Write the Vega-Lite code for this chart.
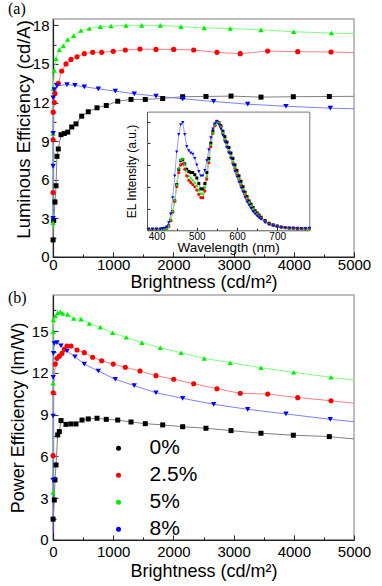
{
  "$schema": "https://vega.github.io/schema/vega-lite/v6.json",
  "background": "white",
  "padding": {"left": 7, "top": -0.1, "right": 0, "bottom": 0},
  "bounds": "flush",
  "spacing": 38,
  "resolve": {"scale": {"stroke": "independent", "fill": "independent", "shape": "independent", "size": "independent"}, "legend": {"stroke": "independent", "fill": "independent", "shape": "independent", "size": "independent"}},
  "config": {
    "font": "Liberation Sans",
    "view": {"stroke": "#a8a8a8", "strokeWidth": 1.5},
    "axis": {"grid": false, "domainColor": "#222222", "domainWidth": 1.2, "tickColor": "#222222", "tickWidth": 1, "labelColor": "#000000", "titleColor": "#000000", "titleFontWeight": "normal", "labelFont": "Liberation Sans", "titleFont": "Liberation Sans", "labelFlush": false, "labelOverlap": false, "labelBound": false},
    "title": {"font": "Liberation Serif", "fontSize": 16, "fontWeight": "normal", "color": "#000000", "anchor": "start", "frame": "group", "baseline": "alphabetic", "offset": 7}
  },
  "datasets": {
    "a": [
      {"b":1,"v":1.32,"s":"0%"},{"b":12,"v":2.83,"s":"0%"},{"b":33,"v":4.26,"s":"0%"},{"b":50,"v":5.53,"s":"0%"},{"b":66,"v":7.82,"s":"0%"},{"b":88,"v":8.39,"s":"0%"},{"b":133,"v":9.5,"s":"0%"},{"b":188,"v":9.6,"s":"0%"},{"b":244,"v":9.7,"s":"0%"},{"b":311,"v":10.1,"s":"0%"},{"b":382,"v":10.34,"s":"0%"},{"b":477,"v":10.94,"s":"0%"},{"b":586,"v":11.28,"s":"0%"},{"b":731,"v":11.59,"s":"0%"},{"b":885,"v":11.77,"s":"0%"},{"b":1075,"v":12.1,"s":"0%"},{"b":1296,"v":12.24,"s":"0%"},{"b":1533,"v":12.24,"s":"0%"},{"b":1822,"v":12.31,"s":"0%"},{"b":2154,"v":12.45,"s":"0%"},{"b":2541,"v":12.47,"s":"0%"},{"b":2957,"v":12.5,"s":"0%"},{"b":3455,"v":12.42,"s":"0%"},{"b":3992,"v":12.45,"s":"0%"},{"b":4590,"v":12.47,"s":"0%"},{"b":5000,"v":12.48,"s":"0%","mk":0},
      {"b":1,"v":5.0,"s":"2.5%"},{"b":2,"v":9.1,"s":"2.5%"},{"b":4,"v":11.25,"s":"2.5%"},{"b":22,"v":12.0,"s":"2.5%"},{"b":33,"v":12.7,"s":"2.5%"},{"b":88,"v":13.5,"s":"2.5%"},{"b":144,"v":14.45,"s":"2.5%"},{"b":216,"v":15.0,"s":"2.5%"},{"b":299,"v":15.35,"s":"2.5%"},{"b":399,"v":15.55,"s":"2.5%"},{"b":520,"v":15.8,"s":"2.5%"},{"b":659,"v":15.9,"s":"2.5%"},{"b":809,"v":15.9,"s":"2.5%"},{"b":1001,"v":15.98,"s":"2.5%"},{"b":1201,"v":16.08,"s":"2.5%"},{"b":1445,"v":16.16,"s":"2.5%"},{"b":1711,"v":16.13,"s":"2.5%"},{"b":2005,"v":16.13,"s":"2.5%"},{"b":2337,"v":16.08,"s":"2.5%"},{"b":2724,"v":15.9,"s":"2.5%"},{"b":3111,"v":15.8,"s":"2.5%"},{"b":3566,"v":16.0,"s":"2.5%"},{"b":4065,"v":15.95,"s":"2.5%"},{"b":4618,"v":15.93,"s":"2.5%"},{"b":5000,"v":15.88,"s":"2.5%","mk":0},
      {"b":1,"v":2.65,"s":"5%"},{"b":2,"v":9.6,"s":"5%"},{"b":4,"v":13.1,"s":"5%"},{"b":22,"v":14.5,"s":"5%"},{"b":50,"v":15.4,"s":"5%"},{"b":105,"v":16.1,"s":"5%"},{"b":171,"v":16.4,"s":"5%"},{"b":244,"v":16.9,"s":"5%"},{"b":344,"v":17.2,"s":"5%"},{"b":465,"v":17.6,"s":"5%"},{"b":603,"v":17.75,"s":"5%"},{"b":786,"v":17.9,"s":"5%"},{"b":963,"v":17.95,"s":"5%"},{"b":1213,"v":18.0,"s":"5%"},{"b":1473,"v":18.0,"s":"5%"},{"b":1782,"v":18.0,"s":"5%"},{"b":2126,"v":17.9,"s":"5%"},{"b":2513,"v":17.8,"s":"5%"},{"b":2945,"v":17.75,"s":"5%"},{"b":3455,"v":17.65,"s":"5%"},{"b":3998,"v":17.5,"s":"5%"},{"b":4625,"v":17.4,"s":"5%"},{"b":5000,"v":17.35,"s":"5%","mk":0},
      {"b":1,"v":3.0,"s":"8%"},{"b":2,"v":7.05,"s":"8%"},{"b":3,"v":9.6,"s":"8%"},{"b":4,"v":12.37,"s":"8%"},{"b":22,"v":13.0,"s":"8%"},{"b":66,"v":13.3,"s":"8%"},{"b":233,"v":13.4,"s":"8%"},{"b":365,"v":13.33,"s":"8%"},{"b":520,"v":13.22,"s":"8%"},{"b":753,"v":13.07,"s":"8%"},{"b":1035,"v":12.88,"s":"8%"},{"b":1350,"v":12.68,"s":"8%"},{"b":1711,"v":12.5,"s":"8%"},{"b":2154,"v":12.29,"s":"8%"},{"b":2669,"v":12.08,"s":"8%"},{"b":3234,"v":11.87,"s":"8%"},{"b":3870,"v":11.71,"s":"8%"},{"b":4606,"v":11.56,"s":"8%"},{"b":5000,"v":11.51,"s":"8%","mk":0}
    ],
    "b": [
      {"b":1,"v":1.49,"s":"0%"},{"b":22,"v":2.87,"s":"0%"},{"b":33,"v":4.31,"s":"0%"},{"b":50,"v":5.38,"s":"0%"},{"b":78,"v":7.54,"s":"0%"},{"b":105,"v":7.78,"s":"0%"},{"b":133,"v":8.57,"s":"0%"},{"b":216,"v":8.3,"s":"0%"},{"b":299,"v":8.33,"s":"0%"},{"b":382,"v":8.33,"s":"0%"},{"b":482,"v":8.61,"s":"0%"},{"b":586,"v":8.69,"s":"0%"},{"b":731,"v":8.74,"s":"0%"},{"b":885,"v":8.66,"s":"0%"},{"b":1075,"v":8.61,"s":"0%"},{"b":1296,"v":8.47,"s":"0%"},{"b":1533,"v":8.35,"s":"0%"},{"b":1822,"v":8.26,"s":"0%"},{"b":2154,"v":8.13,"s":"0%"},{"b":2541,"v":8.02,"s":"0%"},{"b":2957,"v":7.85,"s":"0%"},{"b":3455,"v":7.66,"s":"0%"},{"b":3992,"v":7.52,"s":"0%"},{"b":4590,"v":7.42,"s":"0%"},{"b":5000,"v":7.25,"s":"0%","mk":0},
      {"b":1,"v":6.05,"s":"2.5%"},{"b":5,"v":10.57,"s":"2.5%"},{"b":38,"v":12.63,"s":"2.5%"},{"b":66,"v":13.04,"s":"2.5%"},{"b":105,"v":13.2,"s":"2.5%"},{"b":150,"v":13.4,"s":"2.5%"},{"b":188,"v":13.69,"s":"2.5%"},{"b":233,"v":13.93,"s":"2.5%"},{"b":299,"v":13.93,"s":"2.5%"},{"b":399,"v":13.64,"s":"2.5%"},{"b":520,"v":13.45,"s":"2.5%"},{"b":659,"v":13.12,"s":"2.5%"},{"b":809,"v":12.87,"s":"2.5%"},{"b":1001,"v":12.63,"s":"2.5%"},{"b":1201,"v":12.4,"s":"2.5%"},{"b":1445,"v":12.13,"s":"2.5%"},{"b":1711,"v":11.8,"s":"2.5%"},{"b":2005,"v":11.54,"s":"2.5%"},{"b":2337,"v":11.22,"s":"2.5%"},{"b":2724,"v":10.86,"s":"2.5%"},{"b":3111,"v":10.53,"s":"2.5%"},{"b":3566,"v":10.48,"s":"2.5%"},{"b":4065,"v":10.22,"s":"2.5%"},{"b":4618,"v":10.0,"s":"2.5%"},{"b":5000,"v":9.81,"s":"2.5%","mk":0},
      {"b":1,"v":3.4,"s":"5%"},{"b":2,"v":11.25,"s":"5%"},{"b":3,"v":14.95,"s":"5%"},{"b":8,"v":15.8,"s":"5%"},{"b":38,"v":16.08,"s":"5%"},{"b":78,"v":16.32,"s":"5%"},{"b":121,"v":16.39,"s":"5%"},{"b":161,"v":16.27,"s":"5%"},{"b":244,"v":16.2,"s":"5%"},{"b":344,"v":15.91,"s":"5%"},{"b":465,"v":15.86,"s":"5%"},{"b":603,"v":15.55,"s":"5%"},{"b":786,"v":15.27,"s":"5%"},{"b":991,"v":14.88,"s":"5%"},{"b":1217,"v":14.55,"s":"5%"},{"b":1478,"v":14.17,"s":"5%"},{"b":1782,"v":13.8,"s":"5%"},{"b":2126,"v":13.45,"s":"5%"},{"b":2513,"v":13.04,"s":"5%"},{"b":2945,"v":12.73,"s":"5%"},{"b":3455,"v":12.37,"s":"5%"},{"b":3998,"v":12.04,"s":"5%"},{"b":4618,"v":11.68,"s":"5%"},{"b":5000,"v":11.49,"s":"5%","mk":0},
      {"b":0.3,"v":0.5,"s":"8%","mk":0},{"b":1,"v":4.3,"s":"8%"},{"b":2,"v":8.9,"s":"8%"},{"b":4,"v":11.68,"s":"8%"},{"b":8,"v":13.4,"s":"8%"},{"b":22,"v":14.12,"s":"8%"},{"b":66,"v":14.17,"s":"8%"},{"b":133,"v":13.95,"s":"8%"},{"b":233,"v":13.57,"s":"8%"},{"b":365,"v":13.16,"s":"8%"},{"b":520,"v":12.63,"s":"8%"},{"b":753,"v":12.13,"s":"8%"},{"b":1035,"v":11.54,"s":"8%"},{"b":1350,"v":11.08,"s":"8%"},{"b":1711,"v":10.57,"s":"8%"},{"b":2154,"v":10.17,"s":"8%"},{"b":2669,"v":9.74,"s":"8%"},{"b":3234,"v":9.38,"s":"8%"},{"b":3870,"v":9.05,"s":"8%"},{"b":4606,"v":8.66,"s":"8%"},{"b":5000,"v":8.49,"s":"8%","mk":0}
    ],
    "el": [
      {"w":380,"v":0.01,"s":"0%"},{"w":390,"v":0.01,"s":"0%"},{"w":400,"v":0.01,"s":"0%"},{"w":410,"v":0.01,"s":"0%"},{"w":415,"v":0.012,"s":"0%"},{"w":420,"v":0.015,"s":"0%"},{"w":425,"v":0.02,"s":"0%"},{"w":430,"v":0.04,"s":"0%"},{"w":435,"v":0.09,"s":"0%"},{"w":440,"v":0.17,"s":"0%"},{"w":445,"v":0.27,"s":"0%"},{"w":450,"v":0.42,"s":"0%"},{"w":455,"v":0.56,"s":"0%"},{"w":460,"v":0.64,"s":"0%"},{"w":465,"v":0.65,"s":"0%"},{"w":470,"v":0.61,"s":"0%"},{"w":475,"v":0.56,"s":"0%"},{"w":480,"v":0.54,"s":"0%"},{"w":485,"v":0.53,"s":"0%"},{"w":490,"v":0.53,"s":"0%"},{"w":495,"v":0.51,"s":"0%"},{"w":500,"v":0.48,"s":"0%"},{"w":505,"v":0.43,"s":"0%"},{"w":510,"v":0.38,"s":"0%"},{"w":515,"v":0.38,"s":"0%"},{"w":520,"v":0.43,"s":"0%"},{"w":525,"v":0.53,"s":"0%"},{"w":530,"v":0.66,"s":"0%"},{"w":535,"v":0.8,"s":"0%"},{"w":540,"v":0.91,"s":"0%"},{"w":545,"v":0.97,"s":"0%"},{"w":550,"v":1.0,"s":"0%"},{"w":555,"v":0.99,"s":"0%"},{"w":560,"v":0.96,"s":"0%"},{"w":565,"v":0.91,"s":"0%"},{"w":570,"v":0.86,"s":"0%"},{"w":575,"v":0.81,"s":"0%"},{"w":580,"v":0.76,"s":"0%"},{"w":585,"v":0.71,"s":"0%"},{"w":590,"v":0.66,"s":"0%"},{"w":595,"v":0.6,"s":"0%"},{"w":600,"v":0.55,"s":"0%"},{"w":605,"v":0.5,"s":"0%"},{"w":610,"v":0.45,"s":"0%"},{"w":615,"v":0.4,"s":"0%"},{"w":620,"v":0.35,"s":"0%"},{"w":625,"v":0.31,"s":"0%"},{"w":630,"v":0.27,"s":"0%"},{"w":635,"v":0.24,"s":"0%"},{"w":640,"v":0.21,"s":"0%"},{"w":645,"v":0.18,"s":"0%"},{"w":650,"v":0.16,"s":"0%"},{"w":655,"v":0.14,"s":"0%"},{"w":660,"v":0.12,"s":"0%"},{"w":670,"v":0.09,"s":"0%"},{"w":680,"v":0.065,"s":"0%"},{"w":690,"v":0.05,"s":"0%"},{"w":700,"v":0.04,"s":"0%"},{"w":710,"v":0.03,"s":"0%"},{"w":720,"v":0.025,"s":"0%"},{"w":730,"v":0.02,"s":"0%"},{"w":740,"v":0.02,"s":"0%"},{"w":750,"v":0.018,"s":"0%"},{"w":760,"v":0.016,"s":"0%"},{"w":770,"v":0.015,"s":"0%"},{"w":780,"v":0.015,"s":"0%"},
      {"w":380,"v":0.01,"s":"2.5%"},{"w":390,"v":0.01,"s":"2.5%"},{"w":400,"v":0.01,"s":"2.5%"},{"w":410,"v":0.01,"s":"2.5%"},{"w":415,"v":0.012,"s":"2.5%"},{"w":420,"v":0.015,"s":"2.5%"},{"w":425,"v":0.02,"s":"2.5%"},{"w":430,"v":0.04,"s":"2.5%"},{"w":435,"v":0.09,"s":"2.5%"},{"w":440,"v":0.17,"s":"2.5%"},{"w":445,"v":0.27,"s":"2.5%"},{"w":450,"v":0.4,"s":"2.5%"},{"w":455,"v":0.53,"s":"2.5%"},{"w":460,"v":0.6,"s":"2.5%"},{"w":465,"v":0.61,"s":"2.5%"},{"w":470,"v":0.56,"s":"2.5%"},{"w":475,"v":0.5,"s":"2.5%"},{"w":480,"v":0.46,"s":"2.5%"},{"w":485,"v":0.44,"s":"2.5%"},{"w":490,"v":0.42,"s":"2.5%"},{"w":495,"v":0.4,"s":"2.5%"},{"w":500,"v":0.37,"s":"2.5%"},{"w":505,"v":0.33,"s":"2.5%"},{"w":510,"v":0.3,"s":"2.5%"},{"w":515,"v":0.3,"s":"2.5%"},{"w":520,"v":0.36,"s":"2.5%"},{"w":525,"v":0.47,"s":"2.5%"},{"w":530,"v":0.62,"s":"2.5%"},{"w":535,"v":0.77,"s":"2.5%"},{"w":540,"v":0.89,"s":"2.5%"},{"w":545,"v":0.96,"s":"2.5%"},{"w":550,"v":1.0,"s":"2.5%"},{"w":555,"v":0.99,"s":"2.5%"},{"w":560,"v":0.95,"s":"2.5%"},{"w":565,"v":0.89,"s":"2.5%"},{"w":570,"v":0.83,"s":"2.5%"},{"w":575,"v":0.77,"s":"2.5%"},{"w":580,"v":0.72,"s":"2.5%"},{"w":585,"v":0.67,"s":"2.5%"},{"w":590,"v":0.62,"s":"2.5%"},{"w":595,"v":0.57,"s":"2.5%"},{"w":600,"v":0.52,"s":"2.5%"},{"w":605,"v":0.47,"s":"2.5%"},{"w":610,"v":0.42,"s":"2.5%"},{"w":615,"v":0.37,"s":"2.5%"},{"w":620,"v":0.33,"s":"2.5%"},{"w":625,"v":0.29,"s":"2.5%"},{"w":630,"v":0.25,"s":"2.5%"},{"w":635,"v":0.22,"s":"2.5%"},{"w":640,"v":0.19,"s":"2.5%"},{"w":645,"v":0.17,"s":"2.5%"},{"w":650,"v":0.15,"s":"2.5%"},{"w":655,"v":0.13,"s":"2.5%"},{"w":660,"v":0.11,"s":"2.5%"},{"w":670,"v":0.08,"s":"2.5%"},{"w":680,"v":0.06,"s":"2.5%"},{"w":690,"v":0.045,"s":"2.5%"},{"w":700,"v":0.035,"s":"2.5%"},{"w":710,"v":0.03,"s":"2.5%"},{"w":720,"v":0.025,"s":"2.5%"},{"w":730,"v":0.02,"s":"2.5%"},{"w":740,"v":0.02,"s":"2.5%"},{"w":750,"v":0.018,"s":"2.5%"},{"w":760,"v":0.016,"s":"2.5%"},{"w":770,"v":0.015,"s":"2.5%"},{"w":780,"v":0.015,"s":"2.5%"},
      {"w":380,"v":0.01,"s":"5%"},{"w":390,"v":0.01,"s":"5%"},{"w":400,"v":0.01,"s":"5%"},{"w":410,"v":0.01,"s":"5%"},{"w":415,"v":0.012,"s":"5%"},{"w":420,"v":0.015,"s":"5%"},{"w":425,"v":0.02,"s":"5%"},{"w":430,"v":0.04,"s":"5%"},{"w":435,"v":0.1,"s":"5%"},{"w":440,"v":0.18,"s":"5%"},{"w":445,"v":0.28,"s":"5%"},{"w":450,"v":0.42,"s":"5%"},{"w":455,"v":0.57,"s":"5%"},{"w":460,"v":0.65,"s":"5%"},{"w":465,"v":0.66,"s":"5%"},{"w":470,"v":0.61,"s":"5%"},{"w":475,"v":0.55,"s":"5%"},{"w":480,"v":0.5,"s":"5%"},{"w":485,"v":0.48,"s":"5%"},{"w":490,"v":0.46,"s":"5%"},{"w":495,"v":0.44,"s":"5%"},{"w":500,"v":0.41,"s":"5%"},{"w":505,"v":0.37,"s":"5%"},{"w":510,"v":0.34,"s":"5%"},{"w":515,"v":0.34,"s":"5%"},{"w":520,"v":0.4,"s":"5%"},{"w":525,"v":0.5,"s":"5%"},{"w":530,"v":0.64,"s":"5%"},{"w":535,"v":0.79,"s":"5%"},{"w":540,"v":0.9,"s":"5%"},{"w":545,"v":0.97,"s":"5%"},{"w":550,"v":1.0,"s":"5%"},{"w":555,"v":0.99,"s":"5%"},{"w":560,"v":0.95,"s":"5%"},{"w":565,"v":0.9,"s":"5%"},{"w":570,"v":0.84,"s":"5%"},{"w":575,"v":0.78,"s":"5%"},{"w":580,"v":0.73,"s":"5%"},{"w":585,"v":0.68,"s":"5%"},{"w":590,"v":0.63,"s":"5%"},{"w":595,"v":0.58,"s":"5%"},{"w":600,"v":0.53,"s":"5%"},{"w":605,"v":0.48,"s":"5%"},{"w":610,"v":0.43,"s":"5%"},{"w":615,"v":0.38,"s":"5%"},{"w":620,"v":0.34,"s":"5%"},{"w":625,"v":0.3,"s":"5%"},{"w":630,"v":0.26,"s":"5%"},{"w":635,"v":0.23,"s":"5%"},{"w":640,"v":0.2,"s":"5%"},{"w":645,"v":0.17,"s":"5%"},{"w":650,"v":0.15,"s":"5%"},{"w":655,"v":0.13,"s":"5%"},{"w":660,"v":0.11,"s":"5%"},{"w":670,"v":0.08,"s":"5%"},{"w":680,"v":0.06,"s":"5%"},{"w":690,"v":0.045,"s":"5%"},{"w":700,"v":0.035,"s":"5%"},{"w":710,"v":0.03,"s":"5%"},{"w":720,"v":0.025,"s":"5%"},{"w":730,"v":0.02,"s":"5%"},{"w":740,"v":0.02,"s":"5%"},{"w":750,"v":0.025,"s":"5%"},{"w":760,"v":0.02,"s":"5%"},{"w":770,"v":0.018,"s":"5%"},{"w":780,"v":0.015,"s":"5%"},
      {"w":380,"v":0.01,"s":"8%"},{"w":390,"v":0.01,"s":"8%"},{"w":400,"v":0.01,"s":"8%"},{"w":410,"v":0.012,"s":"8%"},{"w":415,"v":0.015,"s":"8%"},{"w":420,"v":0.02,"s":"8%"},{"w":425,"v":0.03,"s":"8%"},{"w":430,"v":0.07,"s":"8%"},{"w":435,"v":0.15,"s":"8%"},{"w":440,"v":0.3,"s":"8%"},{"w":445,"v":0.5,"s":"8%"},{"w":450,"v":0.72,"s":"8%"},{"w":455,"v":0.88,"s":"8%"},{"w":460,"v":0.97,"s":"8%"},{"w":465,"v":0.99,"s":"8%"},{"w":470,"v":0.88,"s":"8%"},{"w":475,"v":0.77,"s":"8%"},{"w":480,"v":0.73,"s":"8%"},{"w":485,"v":0.71,"s":"8%"},{"w":490,"v":0.7,"s":"8%"},{"w":495,"v":0.66,"s":"8%"},{"w":500,"v":0.6,"s":"8%"},{"w":505,"v":0.54,"s":"8%"},{"w":510,"v":0.5,"s":"8%"},{"w":515,"v":0.5,"s":"8%"},{"w":520,"v":0.55,"s":"8%"},{"w":525,"v":0.64,"s":"8%"},{"w":530,"v":0.74,"s":"8%"},{"w":535,"v":0.85,"s":"8%"},{"w":540,"v":0.93,"s":"8%"},{"w":545,"v":0.98,"s":"8%"},{"w":550,"v":1.0,"s":"8%"},{"w":555,"v":0.97,"s":"8%"},{"w":560,"v":0.93,"s":"8%"},{"w":565,"v":0.87,"s":"8%"},{"w":570,"v":0.81,"s":"8%"},{"w":575,"v":0.76,"s":"8%"},{"w":580,"v":0.71,"s":"8%"},{"w":585,"v":0.66,"s":"8%"},{"w":590,"v":0.6,"s":"8%"},{"w":595,"v":0.54,"s":"8%"},{"w":600,"v":0.49,"s":"8%"},{"w":605,"v":0.44,"s":"8%"},{"w":610,"v":0.39,"s":"8%"},{"w":615,"v":0.35,"s":"8%"},{"w":620,"v":0.3,"s":"8%"},{"w":625,"v":0.26,"s":"8%"},{"w":630,"v":0.23,"s":"8%"},{"w":635,"v":0.2,"s":"8%"},{"w":640,"v":0.17,"s":"8%"},{"w":645,"v":0.15,"s":"8%"},{"w":650,"v":0.13,"s":"8%"},{"w":655,"v":0.115,"s":"8%"},{"w":660,"v":0.1,"s":"8%"},{"w":670,"v":0.07,"s":"8%"},{"w":680,"v":0.05,"s":"8%"},{"w":690,"v":0.04,"s":"8%"},{"w":700,"v":0.03,"s":"8%"},{"w":710,"v":0.025,"s":"8%"},{"w":720,"v":0.02,"s":"8%"},{"w":730,"v":0.02,"s":"8%"},{"w":740,"v":0.018,"s":"8%"},{"w":750,"v":0.016,"s":"8%"},{"w":760,"v":0.015,"s":"8%"},{"w":770,"v":0.015,"s":"8%"},{"w":780,"v":0.02,"s":"8%"}
    ]
  },
  "vconcat": [
    {
      "width": 301,
      "height": 238,
      "title": {"text": "(a)", "dx": -45, "offset": 1.2},
      "resolve": {"scale": {"x": "independent", "y": "independent", "size": "independent"}},
      "layer": [
        {
          "data": {"name": "a"},
          "encoding": {
            "x": {"field": "b", "type": "quantitative", "scale": {"domain": [0, 5000], "nice": false},
              "axis": {"orient": "bottom", "values": [0,500,1000,1500,2000,2500,3000,3500,4000,4500,5000], "format": "d", "labelExpr": "datum.value % 1000 === 0 ? datum.label : ''", "tickSize": {"condition": {"test": "datum.value % 1000 === 0", "value": -5}, "value": -3}, "labelPadding": 5.5, "labelFontSize": 15, "title": "Brightness (cd/m²)", "titleFontSize": 18, "titleBaseline": "alphabetic", "titleY": 31}},
            "y": {"field": "v", "type": "quantitative", "scale": {"domain": [0, 18.5], "nice": false},
              "axis": {"orient": "left", "values": [0,1.5,3,4.5,6,7.5,9,10.5,12,13.5,15,16.5,18], "format": "d", "labelExpr": "datum.value % 3 === 0 ? datum.label : ''", "tickSize": {"condition": {"test": "datum.value % 3 === 0", "value": -5}, "value": -3}, "labelPadding": 9, "labelFontSize": 15, "title": "Luminous Efficiency (cd/A)", "titleFontSize": 18.5, "titleX": -30, "titleY": 110, "titleBaseline": "middle"}}
          },
          "layer": [
            {
              "mark": {"type": "line", "strokeWidth": 1},
              "encoding": {
                "stroke": {"field": "s", "type": "nominal", "scale": {"domain": ["0%","2.5%","5%","8%"], "range": ["#808080","#ff8080","#80ff80","#8080ff"]}, "legend": null}
              }
            },
            {
              "transform": [{"filter": "datum.mk !== 0"}],
              "mark": {"type": "point", "filled": true, "opacity": 1, "strokeWidth": 0},
              "encoding": {
                "fill": {"field": "s", "type": "nominal", "scale": {"domain": ["0%","2.5%","5%","8%"], "range": ["#000000","#ff0000","#00ee00","#0000ff"]}, "legend": null},
                "shape": {"field": "s", "type": "nominal", "scale": {"domain": ["0%","2.5%","5%","8%"], "range": ["square","circle","triangle-up","triangle-down"]}, "legend": null},
                "size": {"field": "s", "type": "ordinal", "scale": {"domain": ["0%","2.5%","5%","8%"], "range": [25,30,36,36]}, "legend": null}
              }
            }
          ]
        },
        {
          "data": {"name": "el"},
          "layer": [
            {
              "mark": {"type": "line", "strokeWidth": 0.8},
              "encoding": {
                "x": {"field": "w", "type": "quantitative", "scale": {"domain": [376, 780], "nice": false, "range": [94, 256.3]},
                  "axis": {"orient": "bottom", "offset": -26.6, "values": [400,450,500,550,600,650,700,750], "format": "d", "labelExpr": "datum.value % 100 === 0 ? datum.label : ''", "tickSize": {"condition": {"test": "datum.value % 100 === 0", "value": -3}, "value": -2}, "labelPadding": 4, "labelFontSize": 10, "title": "Wavelength (nm)", "titleFontSize": 13.5, "titleBaseline": "alphabetic", "titleY": 21.5, "domainColor": "#555555", "domainWidth": 1}},
                "y": {"field": "v", "type": "quantitative", "scale": {"domain": [0, 1.09], "nice": false, "range": [211.4, 92.7]},
                  "axis": {"orient": "left", "offset": -94, "values": [0,0.2,0.4,0.6,0.8,1], "labels": false, "tickSize": -3, "title": "EL Intensity (a.u.)", "titleFontSize": 12, "titleX": -16, "titleBaseline": "middle", "domainColor": "#555555", "domainWidth": 1}},
                "stroke": {"field": "s", "type": "nominal", "scale": {"domain": ["0%","2.5%","5%","8%"], "range": ["#808080","#ff8080","#80ff80","#8080ff"]}, "legend": null}
              }
            },
            {
              "mark": {"type": "point", "filled": true, "opacity": 1, "strokeWidth": 0},
              "encoding": {
                "x": {"field": "w", "type": "quantitative", "axis": {"orient": "top", "offset": -92.7, "labels": false, "ticks": false, "title": null, "domainColor": "#777777", "domainWidth": 1}},
                "y": {"field": "v", "type": "quantitative", "axis": {"orient": "right", "offset": -44.7, "labels": false, "ticks": false, "title": null, "domainColor": "#777777", "domainWidth": 1}},
                "fill": {"field": "s", "type": "nominal", "scale": {"domain": ["0%","2.5%","5%","8%"], "range": ["#000000","#ff0000","#00ee00","#0000ff"]}, "legend": null},
                "shape": {"field": "s", "type": "nominal", "scale": {"domain": ["0%","2.5%","5%","8%"], "range": ["square","circle","triangle-up","triangle-down"]}, "legend": null},
                "size": {"field": "s", "type": "ordinal", "scale": {"domain": ["0%","2.5%","5%","8%"], "range": [9,11,13,13]}, "legend": null}
              }
            }
          ]
        }
      ]
    },
    {
      "width": 301,
      "height": 245,
      "title": {"text": "(b)", "dx": -45, "dy": 18},
      "data": {"name": "b"},
      "encoding": {
        "x": {"field": "b", "type": "quantitative", "scale": {"domain": [0, 5000], "nice": false},
          "axis": {"orient": "bottom", "values": [0,500,1000,1500,2000,2500,3000,3500,4000,4500,5000], "format": "d", "labelExpr": "datum.value % 1000 === 0 ? datum.label : ''", "tickSize": {"condition": {"test": "datum.value % 1000 === 0", "value": -5}, "value": -3}, "labelPadding": 10, "labelFontSize": 15, "title": "Brightness (cd/m²)", "titleFontSize": 18, "titleBaseline": "alphabetic", "titleY": 36.5}},
        "y": {"field": "v", "type": "quantitative", "scale": {"domain": [0, 17.6], "nice": false},
          "axis": {"orient": "left", "values": [0,1.5,3,4.5,6,7.5,9,10.5,12,13.5,15,16.5], "format": "d", "labelExpr": "datum.value % 3 === 0 ? datum.label : ''", "tickSize": {"condition": {"test": "datum.value % 3 === 0", "value": -5}, "value": -3}, "labelPadding": 10, "labelFontSize": 15, "title": "Power Efficiency (lm/W)", "titleFontSize": 18, "titleX": -35, "titleY": 122.5, "titleBaseline": "middle"}}
      },
      "layer": [
        {
          "mark": {"type": "line", "strokeWidth": 1},
          "encoding": {
            "stroke": {"field": "s", "type": "nominal", "scale": {"domain": ["0%","2.5%","5%","8%","---"], "range": ["#808080","#ff8080","#80ff80","#8080ff","#808080"]}, "legend": null}
          }
        },
        {
          "transform": [{"filter": "datum.mk !== 0"}],
          "mark": {"type": "point", "filled": true, "opacity": 1, "strokeWidth": 0},
          "encoding": {
            "fill": {"field": "s", "type": "nominal", "scale": {"domain": ["0%","2.5%","5%","8%"], "range": ["#000000","#ff0000","#00ee00","#0000ff"]},
              "legend": {"orient": "none", "legendX": 55, "legendY": 142.8, "title": null, "labelFontSize": 21, "labelFont": "Liberation Sans", "labelColor": "#000000", "symbolSize": 25, "symbolStrokeWidth": 1, "labelOffset": 20.5, "rowPadding": 5, "padding": 0,
                "encode": {"symbols": {
                  "shape": {"value": {"expr": "datum.value === '0%' ? 'M-9.6,0H9.6M-1,-1H1V1H-1Z' : datum.value === '2.5%' ? 'M-9.6,0H9.6M1.1,0A1.1,1.1,0,1,1,-1.1,0A1.1,1.1,0,1,1,1.1,0Z' : datum.value === '5%' ? 'M-9.6,0H9.6M0,-1.25L1.2,0.9H-1.2Z' : 'M-9.6,0H9.6M0,1.25L1.2,-0.9H-1.2Z'"}},
                  "stroke": {"value": {"expr": "datum.value === '0%' ? '#808080' : datum.value === '2.5%' ? '#ff8080' : datum.value === '5%' ? '#80ff80' : '#8080ff'"}},
                  "size": {"value": 25},
                  "strokeWidth": {"value": 1},
                  "opacity": {"value": 1}
                }}}},
            "shape": {"field": "s", "type": "nominal", "scale": {"domain": ["0%","2.5%","5%","8%","-"], "range": ["square","circle","triangle-up","triangle-down","circle"]}, "legend": null},
            "size": {"field": "s", "type": "ordinal", "scale": {"domain": ["0%","2.5%","5%","8%","--"], "range": [25,30,36,36,25]}, "legend": null}
          }
        }
      ]
    }
  ]
}
